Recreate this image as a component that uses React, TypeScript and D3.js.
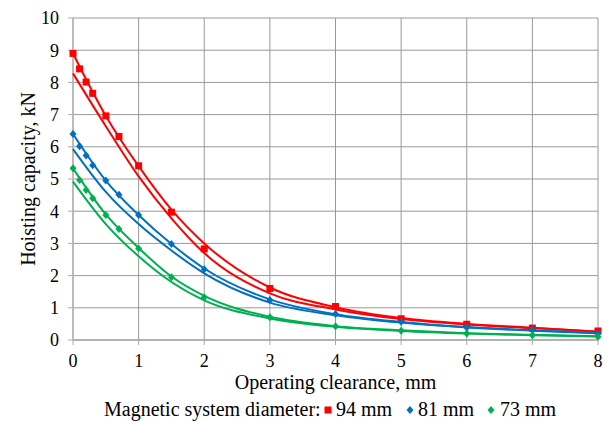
import React from "react";
import * as d3 from "d3";

// measured points (clearance, mm)
const xPoints = [0, 0.1, 0.2, 0.3, 0.5, 0.7, 1, 1.5, 2, 3, 4, 5, 6, 7, 8];
const red94 = [8.9, 8.42, 8.01, 7.66, 6.96, 6.32, 5.41, 3.97, 2.83, 1.6, 1.04, 0.66, 0.49, 0.37, 0.28];
const blue81 = [6.4, 6.02, 5.73, 5.43, 4.95, 4.51, 3.88, 2.98, 2.2, 1.24, 0.81, 0.57, 0.39, 0.31, 0.2];
const green73 = [5.33, 4.97, 4.66, 4.4, 3.88, 3.45, 2.84, 1.95, 1.33, 0.71, 0.43, 0.29, 0.2, 0.15, 0.1];

// two fitted curves per series
const xCurve = [0, 0.5, 1, 1.5, 2, 3, 4, 5, 6, 7, 8];
const redHigh = [8.9, 6.96, 5.4, 4.05, 3.0, 1.63, 1.02, 0.68, 0.5, 0.38, 0.26];
const redLow = [8.28, 6.64, 5.08, 3.78, 2.7, 1.45, 0.95, 0.65, 0.48, 0.37, 0.26];
const blueHigh = [6.4, 4.95, 3.88, 2.98, 2.22, 1.26, 0.8, 0.56, 0.4, 0.3, 0.22];
const blueLow = [5.93, 4.6, 3.6, 2.78, 2.07, 1.16, 0.77, 0.54, 0.39, 0.29, 0.21];
const greenHigh = [5.33, 3.9, 2.86, 1.97, 1.37, 0.72, 0.43, 0.3, 0.21, 0.16, 0.12];
const greenLow = [4.92, 3.6, 2.6, 1.8, 1.23, 0.67, 0.41, 0.28, 0.2, 0.15, 0.11];

const xTicks = [0, 1, 2, 3, 4, 5, 6, 7, 8];
const yTicks = [0, 1, 2, 3, 4, 5, 6, 7, 8, 9, 10];

const series = [
  { name: "94 mm", color: "#FF0000", shape: "square", pts: red94, hi: redHigh, lo: redLow },
  { name: "81 mm", color: "#0070C0", shape: "diamond", pts: blue81, hi: blueHigh, lo: blueLow },
  { name: "73 mm", color: "#00B050", shape: "diamond", pts: green73, hi: greenHigh, lo: greenLow },
];

const W = 608;
const H = 422;
const font = "'Times New Roman', Times, 'Liberation Serif', 'DejaVu Serif', 'Noto Serif', serif";

const x = d3.scaleLinear().domain([0, 8]).range([73, 598]);
const y = d3.scaleLinear().domain([0, 10]).range([340, 18]);

const line = d3
  .line<[number, number]>()
  .x(d => x(d[0]))
  .y(d => y(d[1]))
  .curve(d3.curveMonotoneX);

const Marker = ({ cx, cy, shape, color, s = 7 }: any) =>
  shape === "square" ? (
    <rect x={cx - s / 2} y={cy - s / 2} width={s} height={s} fill={color} />
  ) : (
    <path d={`M${cx},${cy - s / 2 - 0.5}L${cx + s / 2},${cy}L${cx},${cy + s / 2 + 0.5}L${cx - s / 2},${cy}Z`} fill={color} />
  );

const txt = { fontFamily: font, fill: "#000" };

export default function App() {
  return (
    <svg width={W} height={H} style={{ position: "absolute", left: 0, top: 0, background: "#fff" }}>
      {/* grid */}
      {yTicks.map(t => (
        <line key={"gy" + t} x1={x(0)} x2={x(8)} y1={y(t)} y2={y(t)} stroke="#999" strokeWidth={1} />
      ))}
      {xTicks.map(t => (
        <line key={"gx" + t} x1={x(t)} x2={x(t)} y1={y(10)} y2={y(0)} stroke="#999" strokeWidth={1} />
      ))}
      {/* axes */}
      <line x1={x(0)} x2={x(0)} y1={y(10)} y2={y(0)} stroke="#bbb" strokeWidth={2} />
      <line x1={x(0)} x2={x(8)} y1={y(0)} y2={y(0)} stroke="#aaa" strokeWidth={1.5} />
      {yTicks.map(t => (
        <line key={"ty" + t} x1={x(0) - 5} x2={x(0)} y1={y(t)} y2={y(t)} stroke="#aaa" />
      ))}
      {xTicks.map(t => (
        <line key={"tx" + t} x1={x(t)} x2={x(t)} y1={y(0)} y2={y(0) + 5} stroke="#aaa" />
      ))}
      {/* tick labels */}
      {yTicks.map(t => (
        <text key={"ly" + t} x={59} y={y(t)} dy="0.35em" textAnchor="end" style={{ ...txt, fontSize: 18 }}>
          {t}
        </text>
      ))}
      {xTicks.map(t => (
        <text key={"lx" + t} x={x(t)} y={367} textAnchor="middle" style={{ ...txt, fontSize: 18 }}>
          {t}
        </text>
      ))}
      {/* curves */}
      {series.map(s => (
        <g key={s.name}>
          <path d={line(xCurve.map((v, i) => [v, s.hi[i]]) as any) || ""} fill="none" stroke={s.color} strokeWidth={2} />
          <path d={line(xCurve.map((v, i) => [v, s.lo[i]]) as any) || ""} fill="none" stroke={s.color} strokeWidth={2} />
          {s.pts.map((v, i) => (
            <Marker key={i} cx={x(xPoints[i])} cy={y(v)} shape={s.shape} color={s.color} />
          ))}
        </g>
      ))}
      {/* axis titles */}
      <text x={x(4)} y={389} textAnchor="middle" style={{ ...txt, fontSize: 20 }}>
        Operating clearance, mm
      </text>
      <text
        transform={`translate(28, ${y(5)}) rotate(-90)`}
        textAnchor="middle"
        dy="0.35em"
        style={{ ...txt, fontSize: 20 }}
      >
        Hoisting capacity, kN
      </text>
      {/* legend */}
      <g>
        <text x={104} y={416} style={{ ...txt, fontSize: 20 }}>Magnetic system diameter:</text>
        <Marker cx={328} cy={410} shape="square" color="#FF0000" s={7} />
        <text x={336} y={416} style={{ ...txt, fontSize: 20 }}>94 mm</text>
        <Marker cx={410} cy={410} shape="diamond" color="#0070C0" s={7} />
        <text x={418} y={416} style={{ ...txt, fontSize: 20 }}>81 mm</text>
        <Marker cx={491} cy={410} shape="diamond" color="#00B050" s={7} />
        <text x={500} y={416} style={{ ...txt, fontSize: 20 }}>73 mm</text>
      </g>
    </svg>
  );
}
